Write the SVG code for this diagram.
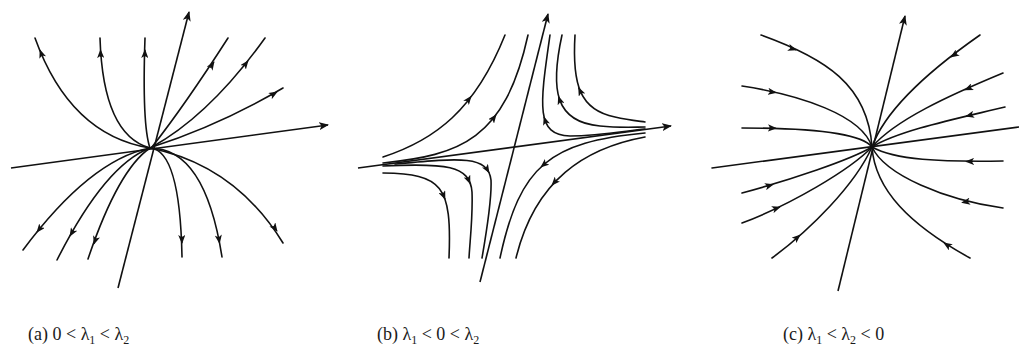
<svg xmlns="http://www.w3.org/2000/svg" width="1019" height="351" viewBox="0 0 1019 351">
<style>
.c{fill:none;stroke:#111;stroke-width:1.6;stroke-linecap:round}
.ax{fill:none;stroke:#111;stroke-width:1.6;marker-end:url(#axh)}
.a{fill:none;stroke:#111;stroke-width:1;marker-end:url(#ah)}
.cap{font-family:"Liberation Serif","Times New Roman",serif;font-size:18px;fill:#1a1a1a}
</style>
<defs>
<marker id="ah" viewBox="0 0 10 8" refX="9" refY="4" markerWidth="9" markerHeight="7.2" markerUnits="userSpaceOnUse" orient="auto">
<path d="M0,0 L10,4 L0,8 L2.5,4 z" fill="#111"/>
</marker>
<marker id="axh" viewBox="0 0 10 8" refX="9" refY="4" markerWidth="10" markerHeight="8" markerUnits="userSpaceOnUse" orient="auto">
<path d="M0,0 L10,4 L0,8 L2.5,4 z" fill="#111"/>
</marker>
</defs>
<rect width="1019" height="351" fill="#fff"/>

<g id="panel-a">
<path class="ax" d="M11,168 L328,125"/>
<path class="ax" d="M118,288 L189,12"/>
<path class="c" d="M150,148 Q70,135 35,38"/>
<path class="c" d="M150,148 Q103,135 100,38"/>
<path class="c" d="M150,148 Q142,125 145,38"/>
<path class="c" d="M152,147 Q185,105 228,38"/>
<path class="c" d="M152,147 Q210,115 265,38"/>
<path class="c" d="M152,147 Q220,125 283,88"/>
<path class="c" d="M150,148 Q90,160 23,250"/>
<path class="c" d="M150,148 Q105,165 57,260"/>
<path class="c" d="M150,148 Q118,170 88,259"/>
<path class="c" d="M150,148 Q180,150 182,257"/>
<path class="c" d="M150,148 Q205,148 222,257"/>
<path class="c" d="M150,148 Q235,165 283,243"/>
<path class="a" d="M42.4,56.6 L40,50"/>
<path class="a" d="M100.7,57 L100.5,50"/>
<path class="a" d="M144.8,57 L145,50"/>
<path class="a" d="M210,68 L214,62"/>
<path class="a" d="M243.7,66.5 L248,61"/>
<path class="a" d="M271,95.5 L277,92"/>
<path class="a" d="M41,227 L37,232"/>
<path class="a" d="M73.5,230 L70,236"/>
<path class="a" d="M96,238 L94,244"/>
<path class="a" d="M181.8,236 L182,243"/>
<path class="a" d="M218.5,236.5 L219.5,243"/>
<path class="a" d="M273.5,226 L277,231"/>
</g>

<g id="panel-b">
<path class="ax" d="M358,168 L671,126"/>
<path class="ax" d="M480,282 L548,14"/>
<path class="c" d="M383,157 C435,140 475,110 505,35"/>
<path class="c" d="M383,163 C460,155 505,140 528,35"/>
<path class="c" d="M550,35 C540,105 535,135 570,136 C600,136 625,131 645,129"/>
<path class="c" d="M562,35 C550,90 555,122 600,126 C620,128 635,127 645,127"/>
<path class="c" d="M575,35 C572,85 580,110 615,117 C628,120 638,121 645,122"/>
<path class="c" d="M383,173 C442,174 452,185 449,258"/>
<path class="c" d="M383,166 C445,163 470,165 472,192 C473,215 470,240 469,258"/>
<path class="c" d="M395,164 C460,158 488,155 491,180 C492,200 486,235 482,258"/>
<path class="c" d="M645,133 C550,142 520,165 500,258"/>
<path class="c" d="M645,137 C585,148 535,180 516,258"/>
<path class="a" d="M467.5,101 L471,96.5"/>
<path class="a" d="M492.4,119.8 L496,115"/>
<path class="a" d="M546.2,123.6 L544,117"/>
<path class="a" d="M560.7,103 L558.5,96.5"/>
<path class="a" d="M581.5,94 L578.6,87.8"/>
<path class="a" d="M442.3,192.6 L445,199"/>
<path class="a" d="M467.5,177.5 L470,183.5"/>
<path class="a" d="M486,167.5 L489,172.5"/>
<path class="a" d="M546,162.8 L541,167"/>
<path class="a" d="M556.7,179.8 L552,185"/>
</g>

<g id="panel-c">
<path class="c" d="M712,168 L1019,127"/>
<path class="ax" d="M838,291 L905,16"/>
<path class="c" d="M761,35 C825,58 868,85 872,147"/>
<path class="c" d="M742,86 C800,95 862,115 872,147"/>
<path class="c" d="M742,128 C800,128 860,132 872,147"/>
<path class="c" d="M742,193 C790,180 850,160 872,147"/>
<path class="c" d="M742,223 C790,205 850,170 872,147"/>
<path class="c" d="M772,258 C810,230 855,185 872,147"/>
<path class="c" d="M980,35 C930,70 885,110 872,147"/>
<path class="c" d="M1003,73 C950,95 895,120 872,147"/>
<path class="c" d="M1005,107 C960,118 900,130 872,147"/>
<path class="c" d="M1003,161 C940,162 895,160 872,147"/>
<path class="c" d="M1003,208 C945,200 885,175 872,147"/>
<path class="c" d="M970,258 C910,225 875,190 872,147"/>
<path class="a" d="M790,48 L796,50"/>
<path class="a" d="M769,91.5 L776,92.5"/>
<path class="a" d="M769,128 L776,128.3"/>
<path class="a" d="M766,186.5 L773,184.5"/>
<path class="a" d="M773,209.5 L780,207"/>
<path class="a" d="M795.5,239 L800,235"/>
<path class="a" d="M957,53 L951,57"/>
<path class="a" d="M971,87.3 L965,89.8"/>
<path class="a" d="M973,114.5 L966,116.2"/>
<path class="a" d="M973,161.5 L966,161.6"/>
<path class="a" d="M968,201.5 L962,202.5"/>
<path class="a" d="M949,246.2 L944,243"/>
</g>

<g id="captions" class="cap">
<text x="28" y="340">(a) 0 &lt; λ<tspan font-size="12" dy="4">1</tspan><tspan dy="-4"> &lt; λ</tspan><tspan font-size="12" dy="4">2</tspan></text>
<text x="377" y="340">(b) λ<tspan font-size="12" dy="4">1</tspan><tspan dy="-4"> &lt; 0 &lt; λ</tspan><tspan font-size="12" dy="4">2</tspan></text>
<text x="783" y="340">(c) λ<tspan font-size="12" dy="4">1</tspan><tspan dy="-4"> &lt; λ</tspan><tspan font-size="12" dy="4">2</tspan><tspan dy="-4"> &lt; 0</tspan></text>
</g>
</svg>
